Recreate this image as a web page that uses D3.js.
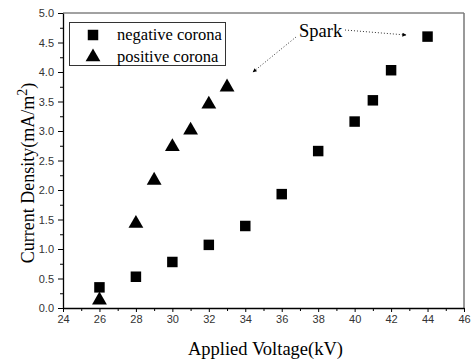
<!DOCTYPE html>
<html>
<head>
<meta charset="utf-8">
<script src="https://cdn.jsdelivr.net/npm/d3@7"></script>
<style>
  body { margin: 0; background: #fff; }
  .tick text { font-family: "Liberation Sans", Arial, sans-serif; font-size: 11px; fill: #333; }
  .serif { font-family: "Liberation Serif", "Times New Roman", serif; }
</style>
</head>
<body>
<div id="chart"></div>
<script>
// negative corona (squares)
const negVoltage = [26, 28, 30, 32, 34, 36, 38, 40, 41, 42, 44];
const negCurrent = [0.35, 0.53, 0.78, 1.07, 1.39, 1.93, 2.66, 3.16, 3.52, 4.03, 4.60];
// positive corona (triangles)
const posVoltage = [26, 28, 29, 30, 31, 32, 33];
const posCurrent = [0.15, 1.45, 2.18, 2.75, 3.03, 3.47, 3.76];

const xTicks = [24, 26, 28, 30, 32, 34, 36, 38, 40, 42, 44, 46];
const yTicks = [0, 0.5, 1, 1.5, 2, 2.5, 3, 3.5, 4, 4.5, 5];

const width = 472;
const height = 362;
const margin = { left: 63, right: 8, top: 13, bottom: 54 };

const svg = d3
  .select('#chart')
  .append('svg')
  .attr('width', width)
  .attr('height', height);

const x = d3.scaleLinear().domain([24, 46]).range([margin.left, width - margin.right]);
const y = d3.scaleLinear().domain([0, 5]).range([height - margin.bottom, margin.top]);

// frame (top and right)
svg.append('line')
  .attr('x1', x(24)).attr('x2', x(46))
  .attr('y1', y(5)).attr('y2', y(5))
  .attr('stroke', '#444').attr('stroke-width', 1);
svg.append('line')
  .attr('x1', x(46)).attr('x2', x(46))
  .attr('y1', y(5)).attr('y2', y(0))
  .attr('stroke', '#777').attr('stroke-width', 1.5);

// minor ticks
svg.append('g')
  .attr('transform', `translate(0,${y(0)})`)
  .call(d3.axisBottom(x).tickValues(d3.range(25, 46, 2)).tickSize(3).tickFormat(''))
  .call((g) => g.select('.domain').remove());
svg.append('g')
  .attr('transform', `translate(${x(24)},0)`)
  .call(d3.axisLeft(y).tickValues(d3.range(0.25, 5, 0.5)).tickSize(3).tickFormat(''))
  .call((g) => g.select('.domain').remove());

// major axes
svg.append('g')
  .attr('transform', `translate(0,${y(0)})`)
  .call(d3.axisBottom(x).tickValues(xTicks).tickSize(4).tickSizeOuter(0).tickPadding(3).tickFormat(d3.format('d')))
  .call((g) => g.select('.domain').attr('stroke-width', 1.3));
svg.append('g')
  .attr('transform', `translate(${x(24)},0)`)
  .call(d3.axisLeft(y).tickValues(yTicks).tickSize(5).tickSizeOuter(0).tickPadding(4).tickFormat(d3.format('.1f')))
  .call((g) => g.select('.domain').attr('stroke-width', 1.3));

// axis titles
svg.append('text')
  .attr('class', 'serif')
  .attr('x', (x(24) + x(46)) / 2 + 2)
  .attr('y', 355)
  .attr('text-anchor', 'middle')
  .attr('font-size', 18.5)
  .text('Applied Voltage(kV)');

const yt = svg.append('text')
  .attr('class', 'serif')
  .attr('transform', 'translate(34,173) rotate(-90)')
  .attr('text-anchor', 'middle')
  .attr('font-size', 18);
yt.append('tspan').text('Current Density(mA/m');
yt.append('tspan').attr('dy', -7).attr('font-size', 14).text('2');
yt.append('tspan').attr('dy', 7).text(')');

// markers
const square = d3.symbol().type(d3.symbolSquare).size(110);
const triangle = d3.symbol().type(d3.symbolTriangle).size(95);

const negData = negVoltage.map((v, i) => ({ v: v, c: negCurrent[i] }));
const posData = posVoltage.map((v, i) => ({ v: v, c: posCurrent[i] }));

svg.selectAll('path.neg')
  .data(negData)
  .enter()
  .append('path')
  .attr('class', 'neg')
  .attr('d', square)
  .attr('transform', (d) => `translate(${x(d.v)},${y(d.c)})`)
  .attr('fill', '#000');

svg.selectAll('path.pos')
  .data(posData)
  .enter()
  .append('path')
  .attr('class', 'pos')
  .attr('d', triangle)
  .attr('transform', (d) => `translate(${x(d.v)},${y(d.c) + 1})`)
  .attr('fill', '#000');

// legend
const legend = svg.append('g');
legend.append('rect')
  .attr('x', 69.5).attr('y', 22.5)
  .attr('width', 156).attr('height', 43)
  .attr('fill', 'none').attr('stroke', '#333').attr('stroke-width', 1);
legend.append('path').attr('d', square).attr('transform', 'translate(93,35)');
legend.append('path').attr('d', triangle).attr('transform', 'translate(93,57)');
legend.append('text')
  .attr('class', 'serif')
  .attr('x', 117).attr('y', 40)
  .attr('font-size', 16.5)
  .text('negative corona');
legend.append('text')
  .attr('class', 'serif')
  .attr('x', 117).attr('y', 62)
  .attr('font-size', 16.5)
  .text('positive corona');

// Spark annotation
svg.append('defs').append('marker')
  .attr('id', 'arr')
  .attr('viewBox', '0 0 10 10')
  .attr('refX', 9).attr('refY', 5)
  .attr('markerWidth', 7).attr('markerHeight', 5)
  .attr('orient', 'auto')
  .append('path')
  .attr('d', 'M0,0 L10,5 L0,10 Z')
  .attr('fill', '#000');

svg.append('text')
  .attr('class', 'serif')
  .attr('x', 299).attr('y', 37)
  .attr('font-size', 18.5)
  .text('Spark');

svg.append('line')
  .attr('x1', 296).attr('y1', 37)
  .attr('x2', 253).attr('y2', 72)
  .attr('stroke', '#000').attr('stroke-width', 0.8)
  .attr('stroke-dasharray', '1,2')
  .attr('marker-end', 'url(#arr)');

svg.append('line')
  .attr('x1', 345).attr('y1', 30)
  .attr('x2', 406).attr('y2', 35)
  .attr('stroke', '#000').attr('stroke-width', 0.8)
  .attr('stroke-dasharray', '1,2')
  .attr('marker-end', 'url(#arr)');
</script>
</body>
</html>
